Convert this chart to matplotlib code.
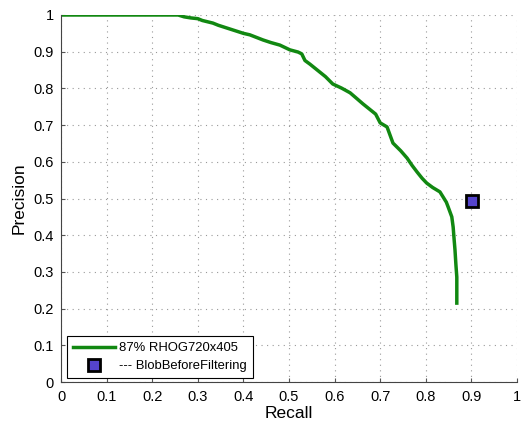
import matplotlib
matplotlib.use("Agg")
import matplotlib.pyplot as plt

plt.rcParams['font.family'] = ['Liberation Sans', 'DejaVu Sans']

recall = [0.0, 0.257, 0.27, 0.285, 0.30, 0.31, 0.333, 0.345, 0.37, 0.40, 0.414, 0.443,
          0.46, 0.48, 0.502, 0.52, 0.528, 0.535, 0.546, 0.56, 0.58, 0.596, 0.615, 0.634,
          0.649, 0.662, 0.673, 0.69, 0.70, 0.715, 0.728, 0.745, 0.759, 0.77, 0.781,
          0.792, 0.802, 0.815, 0.831, 0.838, 0.845, 0.849, 0.857, 0.860, 0.862, 0.864,
          0.866, 0.868, 0.868]
precision = [1.0, 1.0, 0.995, 0.992, 0.99, 0.985, 0.978, 0.972, 0.962, 0.950, 0.946, 0.932,
             0.925, 0.918, 0.905, 0.899, 0.894, 0.876, 0.866, 0.852, 0.832, 0.812, 0.801, 0.788,
             0.772, 0.758, 0.747, 0.73, 0.706, 0.695, 0.651, 0.63, 0.610, 0.59, 0.572,
             0.555, 0.542, 0.53, 0.518, 0.504, 0.49, 0.477, 0.45, 0.422, 0.39, 0.36,
             0.32, 0.286, 0.215]

blob_recall = [0.901]
blob_precision = [0.493]

ticks = [0, 0.1, 0.2, 0.3, 0.4, 0.5, 0.6, 0.7, 0.8, 0.9, 1]
tick_labels = ['0', '0.1', '0.2', '0.3', '0.4', '0.5', '0.6', '0.7', '0.8', '0.9', '1']

fig = plt.figure(figsize=(5.21, 4.21), dpi=100)
ax = fig.add_axes([61/521, 1 - 382/421, 456/521, 367/421])

ax.plot(recall, precision, color='#118811', linewidth=2.5, label='87% RHOG720x405')
ax.plot(blob_recall, blob_precision, linestyle='none', marker='s', markersize=9,
        markerfacecolor='#5544cc', markeredgecolor='black', markeredgewidth=2,
        label='--- BlobBeforeFiltering')

ax.set_xlim(0, 1)
ax.set_ylim(0, 1)
ax.set_xticks(ticks)
ax.set_xticklabels(tick_labels)
ax.set_yticks(ticks)
ax.set_yticklabels(tick_labels)
ax.tick_params(labelsize=10.5, direction='in', length=3, color='#555555')
ax.tick_params(axis='x', pad=6)
ax.tick_params(axis='y', pad=5)
ax.grid(True, linestyle=(0, (1, 4)), color='#999999', linewidth=0.8)
for s in ['top', 'right']:
    ax.spines[s].set_visible(False)
for s in ['left', 'bottom']:
    ax.spines[s].set_color('#444444')
    ax.spines[s].set_linewidth(0.8)

ax.set_xlabel('Recall', fontsize=12.5, labelpad=1)
ax.set_ylabel('Precision', fontsize=12.5, labelpad=5)

leg = ax.legend(loc='lower left', bbox_to_anchor=(0.013, 0.011), fontsize=9.4,
                fancybox=False, edgecolor='black', framealpha=1,
                handlelength=3.2, borderpad=0.45, labelspacing=0.45, handletextpad=0.35,
                borderaxespad=0)
leg.get_frame().set_linewidth(0.8)

fig.savefig('out.png', dpi=100)
